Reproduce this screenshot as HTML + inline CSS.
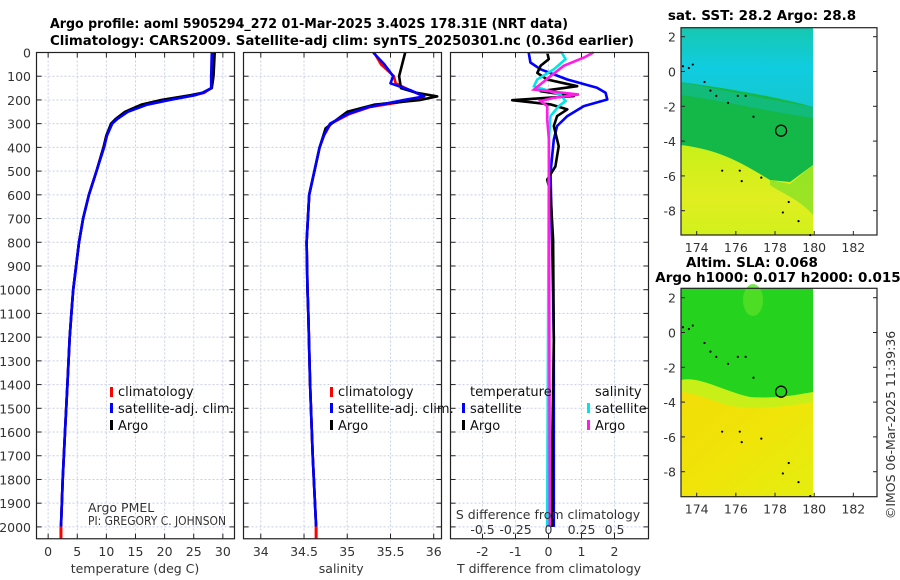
<!DOCTYPE html>
<html><head><meta charset="utf-8">
<style>
html,body{margin:0;padding:0;background:#fff;}
svg{display:block;font-family:"DejaVu Sans","Liberation Sans",sans-serif;}
.tk{font-size:12.5px;fill:#333;}
.ttl{font-size:13.5px;font-weight:bold;fill:#000;}
.lg{font-size:13px;fill:#111;}
</style></head>
<body>
<svg id="chart" width="900" height="580" viewBox="0 0 900 580">
<defs>
<linearGradient id="sstTop" x1="0" y1="0" x2="0" y2="1">
<stop offset="0" stop-color="#16c8b0"/><stop offset="0.5" stop-color="#10cce0"/><stop offset="1" stop-color="#14c8d0"/>
</linearGradient>
<linearGradient id="yel1" x1="0" y1="0" x2="0" y2="1">
<stop offset="0" stop-color="#c8f018"/><stop offset="0.6" stop-color="#e0ee20"/><stop offset="1" stop-color="#d2f01c"/>
</linearGradient>
<linearGradient id="yel2" x1="0" y1="0" x2="1" y2="1">
<stop offset="0" stop-color="#f2dc08"/><stop offset="0.5" stop-color="#f0e408"/><stop offset="1" stop-color="#e4ee10"/>
</linearGradient>
</defs>
<g id="titles">
<text x="50" y="28" class="ttl" textLength="518" lengthAdjust="spacingAndGlyphs">Argo profile: aoml 5905294_272 01-Mar-2025 3.402S 178.31E (NRT data)</text>
<text x="50" y="45" class="ttl" textLength="584" lengthAdjust="spacingAndGlyphs">Climatology: CARS2009. Satellite-adj clim: synTS_20250301.nc (0.36d earlier)</text>
</g>
<g id="panels"></g>
<g id="maps"></g>
<text x="0" y="0" class="tk" transform="translate(895,425) rotate(-90)" text-anchor="middle" font-size="13">©IMOS 06-Mar-2025 11:39:36</text>
</svg>
<script>
// ---- depth axis data ----
const depthTicks = [0,100,200,300,400,500,600,700,800,900,1000,1100,1200,1300,1400,1500,1600,1700,1800,1900,2000];
// temperature profiles (depth, value)
const tempDepth = [0,100,150,170,180,200,220,250,280,300,350,400,500,600,700,800,900,1000,1100,1200,1400,1600,1800,1999];
const tempArgo  = [28.6,28.4,28.1,26.5,24.5,19.5,16,13.2,11.6,10.8,10.0,9.5,8.3,7.0,6.0,5.3,4.8,4.3,4.0,3.7,3.3,2.9,2.5,2.2];
const tempClim  = [28.3,28.2,28.0,26.8,25.0,20.5,16.6,13.4,11.7,10.9,10.0,9.5,8.3,7.0,6.0,5.3,4.8,4.3,4.0,3.7,3.3,2.9,2.5,2.2];
const tempSat   = [28.1,28.0,28.0,26.5,25.2,21.0,17.0,13.7,11.9,11.0,10.1,9.6,8.3,7.0,6.0,5.3,4.8,4.3,4.0,3.7,3.3,2.9,2.5,2.2];
const tempTicks = [0,5,10,15,20,25,30];
// salinity profiles
const salDepthArgo = [0,100,150,170,185,200,220,250,280,320,400,500,600,800,1000,1100,1400,1700,1999];
const salArgo      = [35.67,35.60,35.62,35.80,36.04,35.85,35.31,35.00,34.89,34.75,34.68,34.62,34.56,34.53,34.54,34.55,34.57,34.60,34.64];
const salDepthClim = [0,50,100,130,160,185,200,230,260,300,350,400,500,600,800,1000,1100,1400,1700,1999];
const salClim      = [35.31,35.39,35.54,35.56,35.73,35.89,35.77,35.26,35.02,34.81,34.73,34.68,34.62,34.56,34.53,34.54,34.55,34.57,34.60,34.64];
const salSat       = [35.30,35.43,35.53,35.50,35.74,35.89,35.66,35.24,35.00,34.80,34.73,34.68,34.62,34.56,34.53,34.54,34.55,34.57,34.60,34.64];
const salTicks = [34,34.5,35,35.5,36];
const salTickLabels = ["34","34.5","35","35.5","36"];
// difference panel
const dTDepthArgo = [0,28,56,86,114,142,163,184,201,219,240,268,310,395,480,536,592,789,1211,1600,2000];
const dTArgo      = [-0.04,0.01,-0.24,-0.34,-0.04,0.87,-0.24,0.77,-1.10,0.06,0.57,0.26,0.16,0.31,0.21,-0.04,0.06,0.14,0.16,0.12,0.11];
const dTDepthSat  = [0,42,71,114,149,170,198,226,268,310,367,507,789,1211,2000];
const dTSat       = [-0.60,-0.55,-0.24,0.57,1.47,1.73,1.78,1.07,0.57,0.26,0.16,0.06,0.11,0.16,0.16];
const dSDepthSat  = [0,0,28,71,114,142,177,205,226,268,367,2000];
const dSSat       = [-0.136,0.10,0.129,0.04,-0.086,-0.11,0.09,0.129,0.078,0.015,0.003,-0.01];
const dSDepthArgo = [0,21,56,100,156,177,191,205,226,282,367,2000];
const dSArgo      = [0.34,0.27,0.116,0.015,-0.11,0.23,0.04,-0.06,-0.01,-0.01,0.003,0.01];
const dTTicks = [-2,-1,0,1,2];
const dSTicks = [-0.5,-0.25,0,0.25,0.5];
const dSTickLabels = ["-0.5","-0.25","0","0.25","0.5"];
// map axes
const lonTicks = [174,176,178,180,182];
const latTicks = [2,0,-2,-4,-6,-8];
const argoLon = 178.31, argoLat = -3.402;
const trackLon = [173.3,173.6,173.8,174.4,174.7,175.0,175.6,176.1,176.5,176.9,178.7,178.4,179.2,179.8,175.3,176.2,176.3,177.3];
const trackLat = [0.3,0.2,0.4,-0.6,-1.1,-1.4,-1.8,-1.4,-1.4,-2.6,-7.5,-8.1,-8.6,-9.4,-5.7,-5.7,-6.3,-6.1];

const NS="http://www.w3.org/2000/svg";
function mk(tag,attrs,parent){const e=document.createElementNS(NS,tag);for(const k in attrs)e.setAttribute(k,attrs[k]);parent.appendChild(e);return e;}
const panelsG=document.getElementById('panels');
const top0=52.5, dpx=0.2372; // depth scale
function yD(d){return top0+d*dpx;}
const bottom=yD(2050);

function panel(x0,x1,vmin,vmax,name){
  const g=mk('g',{},panelsG);
  
  
  const sx=v=>x0+(v-vmin)/(vmax-vmin)*(x1-x0);
  return {g,sx,x0,x1};
}
function grid(p,xticks){
  depthTicks.forEach(d=>{mk('line',{x1:p.x0,x2:p.x1,y1:yD(d),y2:yD(d),stroke:'#c8cfe8','stroke-width':1,'stroke-dasharray':'2,2'},p.g);
    mk('line',{x1:p.x0,x2:p.x0+5,y1:yD(d),y2:yD(d),stroke:'#222'},p.g);
    mk('line',{x1:p.x1,x2:p.x1-5,y1:yD(d),y2:yD(d),stroke:'#222'},p.g);});
  xticks.forEach(v=>{const x=p.sx(v);mk('line',{x1:x,x2:x,y1:top0,y2:bottom,stroke:'#c8cfe8','stroke-width':1,'stroke-dasharray':'2,2'},p.g);
    mk('line',{x1:x,x2:x,y1:bottom,y2:bottom-5,stroke:'#222'},p.g);
    mk('line',{x1:x,x2:x,y1:top0,y2:top0+5,stroke:'#222'},p.g);});
}
function frame(p){mk('rect',{x:p.x0,y:top0,width:p.x1-p.x0,height:bottom-top0,fill:'none',stroke:'#222','stroke-width':1.2},p.g);}
function line(p,depths,vals,color,w,name){
  const pts=depths.map((d,i)=>p.sx(vals[i]).toFixed(1)+','+yD(d).toFixed(1)).join(' ');
  const l=mk('polyline',{points:pts,fill:'none',stroke:color,'stroke-width':w,'stroke-linejoin':'round'},p.g);
  
  
  return l;
}
function txt(p,x,y,s,cls,anchor,name){const t=mk('text',{x,y,class:cls,'text-anchor':anchor||'start'},p.g);t.textContent=s;
  
  
  return t;}
function legendMark(p,x,y,color){mk('rect',{x:x,y:y-11,width:3,height:10,fill:color},p.g);}

// Panel 1 temperature
const p1=panel(36.5,234.5,-2,32,'temperature-panel');
grid(p1,tempTicks);
line(p1,tempDepth,tempClim,'#ff0000',2.6,'temp-climatology-line');
line(p1,tempDepth,tempArgo,'#000000',2.6,'temp-argo-line');
line(p1,tempDepth,tempSat,'#0000ff',2.6,'temp-satellite-line');
mk('line',{x1:p1.sx(2.2),x2:p1.sx(2.2),y1:yD(1999),y2:bottom,stroke:'#ff0000','stroke-width':3},p1.g);
frame(p1);
depthTicks.forEach(d=>txt(p1,31,yD(d)+5,String(d),'tk','end','y-tick-label'));
tempTicks.forEach(v=>txt(p1,p1.sx(v),556,String(v),'tk','middle','x-tick-label'));
txt(p1,135,573,'temperature (deg C)','tk','middle','x-axis-title');
legendMark(p1,110,398,'#ff0000');legendMark(p1,110,414,'#0000ff');legendMark(p1,110,431,'#000');
txt(p1,118,396,'climatology','lg','start','legend-climatology');
txt(p1,118,413,'satellite-adj. clim.','lg','start','legend-satellite-adj');
txt(p1,118,430,'Argo','lg','start','legend-argo');
{const a=txt(p1,88,512,'Argo PMEL','tk','start','pi-institution');a.setAttribute('font-size','10.5');}
{const b=txt(p1,88,525,'PI: GREGORY C. JOHNSON','tk','start','pi-name');b.setAttribute('font-size','10.5');b.setAttribute('textLength','138');b.setAttribute('lengthAdjust','spacingAndGlyphs');}

// Panel 2 salinity
const p2=panel(243.5,441.5,33.8,36.09,'salinity-panel');
grid(p2,salTicks);
line(p2,salDepthClim,salClim,'#ff0000',2.6,'sal-climatology-line');
line(p2,salDepthArgo,salArgo,'#000000',2.6,'sal-argo-line');
line(p2,salDepthClim,salSat,'#0000ff',2.6,'sal-satellite-line');
mk('line',{x1:p2.sx(34.64),x2:p2.sx(34.64),y1:yD(1999),y2:bottom,stroke:'#ff0000','stroke-width':3},p2.g);
frame(p2);
salTicks.forEach((v,i)=>txt(p2,p2.sx(v),556,salTickLabels[i],'tk','middle','x-tick-label'));
txt(p2,p2.sx(34.93),573,'salinity','tk','middle','x-axis-title');
legendMark(p2,330,398,'#ff0000');legendMark(p2,330,414,'#0000ff');legendMark(p2,330,431,'#000');
txt(p2,338,396,'climatology','lg','start','legend-climatology');
txt(p2,338,413,'satellite-adj. clim.','lg','start','legend-satellite-adj');
txt(p2,338,430,'Argo','lg','start','legend-argo');

// Panel 3 differences
const p3=panel(450.5,648.5,-2.97,3.03,'difference-panel');
const sxS=v=>p3.sx(0)+(v/0.25)*33;
grid(p3,dTTicks);
line(p3,dTDepthSat,dTSat,'#0000ff',2.6,'dT-satellite-line');
line(p3,dTDepthArgo,dTArgo,'#000000',2.6,'dT-argo-line');
{const pts=dSDepthSat.map((d,i)=>sxS(dSSat[i]).toFixed(1)+','+yD(d).toFixed(1)).join(' ');
 const l=mk('polyline',{points:pts,fill:'none',stroke:'#00e5e5','stroke-width':2.6},p3.g);
 
 }
{const pts=dSDepthArgo.map((d,i)=>sxS(dSArgo[i]).toFixed(1)+','+yD(d).toFixed(1)).join(' ');
 const l=mk('polyline',{points:pts,fill:'none',stroke:'#ff1ee6','stroke-width':2.6},p3.g);
 
 }
frame(p3);
dTTicks.forEach(v=>txt(p3,p3.sx(v),556,String(v),'tk','middle','x-tick-label'));
txt(p3,549,573,'T difference from climatology','tk','middle','x-axis-title');
txt(p3,548,519,'S difference from climatology','tk','middle','s-axis-title');
dSTicks.forEach((v,i)=>txt(p3,sxS(v),534,dSTickLabels[i],'tk','middle','s-tick-label'));
txt(p3,470,396,'temperature','lg','start','legend-temperature-header');
txt(p3,595,396,'salinity','lg','start','legend-salinity-header');
legendMark(p3,462,414,'#0000ff');legendMark(p3,462,431,'#000');
legendMark(p3,587,414,'#00e5e5');legendMark(p3,587,431,'#ff1ee6');
txt(p3,470,413,'satellite','lg','start','legend-t-satellite');
txt(p3,470,430,'Argo','lg','start','legend-t-argo');
txt(p3,595,413,'satellite','lg','start','legend-s-satellite');
txt(p3,595,430,'Argo','lg','start','legend-s-argo');

// ---- maps ----
const mapsG=document.getElementById('maps');
function map(top,bot,lat2y,latm8y,name,fill){
  const g=mk('g',{},mapsG);
  
  
  const L=681,R=877;
  const sx=lon=>696.7+(lon-174)*19.58;
  const sy=lat=>lat2y+(2-lat)*(latm8y-lat2y)/10;
  fill(g,sx,sy,top,bot);
  mk('rect',{x:L,y:top,width:R-L,height:bot-top,fill:'none',stroke:'#222','stroke-width':1.2},g);
  lonTicks.forEach(v=>{mk('line',{x1:sx(v),x2:sx(v),y1:bot,y2:bot-4,stroke:'#222'},g);
    const t=mk('text',{x:sx(v),y:bot+17,class:'tk','text-anchor':'middle'},g);t.textContent=v;
    
    });
  latTicks.forEach(v=>{mk('line',{x1:L,x2:L+4,y1:sy(v),y2:sy(v),stroke:'#222'},g);
    mk('line',{x1:R,x2:R-4,y1:sy(v),y2:sy(v),stroke:'#222'},g);
    const t=mk('text',{x:676,y:sy(v)+5,class:'tk','text-anchor':'end'},g);t.textContent=v;
    
    });
  trackLon.forEach((lo,i)=>{const d=mk('circle',{cx:sx(lo),cy:sy(trackLat[i]),r:1.1,fill:'#000'},g);
    
    });
  const c=mk('circle',{cx:sx(argoLon),cy:sy(argoLat),r:5.5,fill:'none',stroke:'#000','stroke-width':1.3},g);
  
  
}
map(27.7,235,36.7,210.7,'sst-map',(g,sx,sy,top,bot)=>{
  const L=681,R=813;
  mk('rect',{x:L,y:top,width:R-L,height:bot-top,fill:'#14b848'},g);
  mk('path',{d:`M${L},${top} H${R} V107 C790,100 740,90 ${L},82 Z`,fill:'url(#sstTop)'},g);
  mk('path',{d:`M${L},82 C720,90 760,98 ${R},107 V118 C760,110 720,100 ${L},95 Z`,fill:'#12bc90',opacity:0.7},g);
  mk('path',{d:`M${L},145 C720,150 740,162 770,180 L790,182 L${R},165 V${bot} H${L} Z`,fill:'url(#yel1)'},g);
  mk('path',{d:`M770,180 L790,184 L${R},165 V215 C800,200 785,195 770,185 Z`,fill:'#7ce028',opacity:0.7},g);
});
map(288.3,496.7,297.7,471.7,'sla-map',(g,sx,sy,top,bot)=>{
  const L=681,R=813;
  mk('rect',{x:L,y:top,width:R-L,height:bot-top,fill:'#2ad81a'},g);
  mk('path',{d:`M${L},${top} H${R} V${bot} H${L} Z`,fill:'#20cc20',opacity:0.5},g);
  mk('ellipse',{cx:753,cy:300,rx:10,ry:16,fill:'#58e028',opacity:0.8},g);
  mk('path',{d:`M${L},382 C700,380 720,395 750,402 C780,404 800,398 ${R},396 V${bot} H${L} Z`,fill:'url(#yel2)'},g);
  mk('path',{d:`M${L},380 C700,376 720,390 750,397 C780,399 800,394 ${R},392 V402 C790,406 760,410 730,406 C705,398 690,392 ${L},392 Z`,fill:'#c8f018'},g);
});
// map titles
[['sat. SST: 28.2 Argo: 28.8',762,20,'sst-map-title'],['Altim. SLA: 0.068',752,267,'sla-map-title'],['Argo h1000: 0.017 h2000: 0.015',778,282,'argo-height-title']].forEach(a=>{
  const t=mk('text',{x:a[1],y:a[2],class:'ttl','text-anchor':'middle'},mapsG);t.textContent=a[0];
  
  
});
</script>
</body></html>
